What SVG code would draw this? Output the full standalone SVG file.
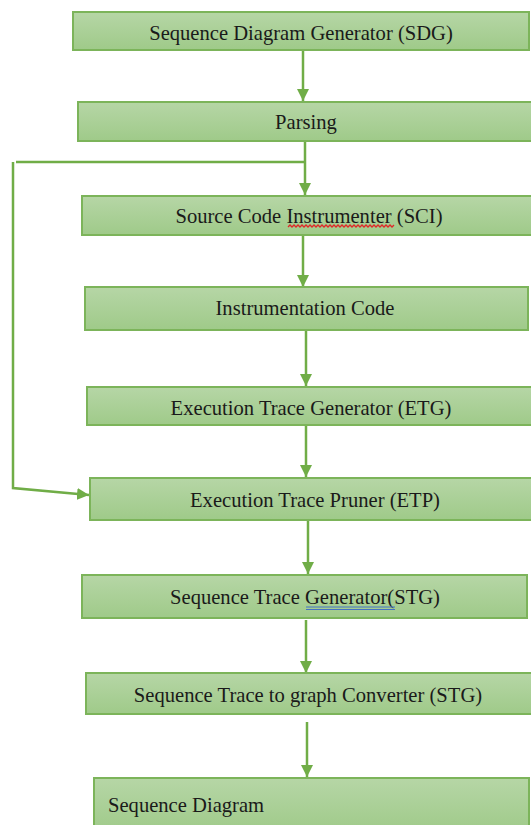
<svg xmlns="http://www.w3.org/2000/svg" width="531" height="825" viewBox="0 0 531 825">
  <defs>
    <linearGradient id="gfill" x1="0" y1="0" x2="0" y2="1">
      <stop offset="0" stop-color="#b6d6a6"/>
      <stop offset="1" stop-color="#9fca89"/>
    </linearGradient>
    <marker id="arr" markerUnits="userSpaceOnUse" markerWidth="12" markerHeight="12" viewBox="0 0 12 12" refX="12" refY="6" orient="auto">
      <path d="M0,0 L12,6 L0,12 Z" fill="#70ad47"/>
    </marker>
    <style>
      .box { fill: url(#gfill); stroke: #7cb45a; stroke-width: 2; }
      .lbl { font-family: "Liberation Serif", "Times New Roman", serif; font-size: 20.6px; fill: #1a1a1a; text-anchor: middle; }
      .conn { fill: none; stroke: #70ad47; stroke-width: 2.5; }
    </style>
  </defs>
  <rect width="531" height="825" fill="#ffffff"/>

  <g id="connectors">
    <line class="conn" x1="303" y1="50" x2="303" y2="101" marker-end="url(#arr)"/>
    <line class="conn" x1="305" y1="141" x2="305" y2="195" marker-end="url(#arr)"/>
    <line class="conn" x1="305" y1="162" x2="16" y2="162"/>
    <polyline class="conn" points="13,162 13,488 89,495" marker-end="url(#arr)"/>
    <line class="conn" x1="303" y1="235" x2="303" y2="287" marker-end="url(#arr)"/>
    <line class="conn" x1="306" y1="330" x2="306" y2="386" marker-end="url(#arr)"/>
    <line class="conn" x1="306" y1="425" x2="306" y2="477" marker-end="url(#arr)"/>
    <line class="conn" x1="308" y1="520" x2="308" y2="574" marker-end="url(#arr)"/>
    <line class="conn" x1="306" y1="620" x2="306" y2="673" marker-end="url(#arr)"/>
    <line class="conn" x1="307" y1="722" x2="307" y2="777" marker-end="url(#arr)"/>
  </g>

  <g id="sdg">
    <rect class="box" x="73" y="12" width="456" height="38"/>
    <text class="lbl" x="301" y="40">Sequence Diagram Generator (SDG)</text>
  </g>
  <g id="parsing">
    <rect class="box" x="78" y="102" width="460" height="39"/>
    <text class="lbl" x="306" y="129">Parsing</text>
  </g>
  <g id="sci">
    <rect class="box" x="82" y="196" width="460" height="39"/>
    <text class="lbl" x="309" y="223">Source Code Instrumenter (SCI)</text>
    <path d="M288,227 l2,-2 l2,2 l2,-2 l2,2 l2,-2 l2,2 l2,-2 l2,2 l2,-2 l2,2 l2,-2 l2,2 l2,-2 l2,2 l2,-2 l2,2 l2,-2 l2,2 l2,-2 l2,2 l2,-2 l2,2 l2,-2 l2,2 l2,-2 l2,2 l2,-2 l2,2 l2,-2 l2,2 l2,-2 l2,2 l2,-2 l2,2 l2,-2 l2,2 l2,-2 l2,2 l2,-2 l2,2 l2,-2 l2,2 l2,-2 l2,2 l2,-2 l2,2 l2,-2 l2,2 l2,-2 l2,2 l2,-2 l2,2 l2,-2" fill="none" stroke="#e02828" stroke-width="1.3"/>
  </g>
  <g id="instrumentation-code">
    <rect class="box" x="85" y="287" width="443" height="43"/>
    <text class="lbl" x="305" y="315">Instrumentation Code</text>
  </g>
  <g id="etg">
    <rect class="box" x="87" y="387" width="460" height="38"/>
    <text class="lbl" x="311" y="415">Execution Trace Generator (ETG)</text>
  </g>
  <g id="etp">
    <rect class="box" x="90" y="478" width="460" height="42"/>
    <text class="lbl" x="315" y="507">Execution Trace Pruner (ETP)</text>
  </g>
  <g id="stg">
    <rect class="box" x="82" y="575" width="445" height="43"/>
    <text class="lbl" x="305" y="604">Sequence Trace Generator(STG)</text>
    <line x1="306" y1="607" x2="395" y2="607" stroke="#4472c4" stroke-width="1"/>
    <line x1="306" y1="609.5" x2="395" y2="609.5" stroke="#4472c4" stroke-width="1"/>
  </g>
  <g id="stg-converter">
    <rect class="box" x="86" y="673" width="460" height="41"/>
    <text class="lbl" x="308" y="702">Sequence Trace to graph Converter (STG)</text>
  </g>
  <g id="sequence-diagram">
    <rect class="box" x="94" y="778" width="435" height="55"/>
    <text class="lbl" x="108" y="812" style="text-anchor:start">Sequence Diagram</text>
  </g>
</svg>
